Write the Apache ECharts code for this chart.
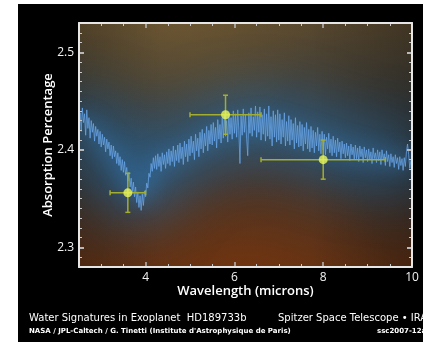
<!DOCTYPE html>
<html>
<head>
<meta charset="utf-8">
<script src="https://cdn.jsdelivr.net/npm/echarts@6/dist/echarts.min.js"></script>
<style>
  html, body { margin: 0; padding: 0; background: #fff; }
  #chart { position: absolute; left: 18px; top: 4px; width: 405px; height: 338px; }
</style>
</head>
<body>
<div id="chart"></div>
<script>
const waveStart = 2.5;
const waveStep = 0.025;
const absorption = [
  2.424, 2.438, 2.419, 2.443, 2.428, 2.437, 2.415, 2.441, 2.422, 2.433,
  2.412, 2.430, 2.418, 2.427, 2.409, 2.424, 2.414, 2.421, 2.406, 2.419,
  2.403, 2.416, 2.405, 2.413, 2.398, 2.411, 2.401, 2.408, 2.394, 2.405,
  2.391, 2.404, 2.393, 2.399, 2.386, 2.397, 2.384, 2.393, 2.379, 2.390,
  2.377, 2.388, 2.374, 2.382, 2.368, 2.377, 2.362, 2.371, 2.357, 2.367,
  2.352, 2.362, 2.346, 2.357, 2.341, 2.353, 2.338, 2.355, 2.343, 2.358,
  2.352, 2.366, 2.361, 2.376, 2.372, 2.386, 2.378, 2.392, 2.381, 2.394,
  2.380, 2.396, 2.383, 2.393, 2.378, 2.397, 2.385, 2.395, 2.381, 2.398,
  2.386, 2.401, 2.384, 2.399, 2.388, 2.404, 2.383, 2.400, 2.389, 2.405,
  2.387, 2.407, 2.391, 2.403, 2.385, 2.409, 2.393, 2.406, 2.388, 2.411,
  2.394, 2.414, 2.397, 2.409, 2.390, 2.416, 2.399, 2.412, 2.393, 2.418,
  2.401, 2.421, 2.397, 2.417, 2.404, 2.424, 2.399, 2.420, 2.406, 2.426,
  2.405, 2.428, 2.409, 2.423, 2.402, 2.431, 2.411, 2.426, 2.407, 2.433,
  2.412, 2.436, 2.414, 2.430, 2.408, 2.438, 2.416, 2.433, 2.411, 2.440,
  2.417, 2.437, 2.413, 2.441, 2.420, 2.386, 2.435, 2.415, 2.442, 2.418,
  2.436, 2.412, 2.394, 2.438, 2.417, 2.443, 2.414, 2.434, 2.420, 2.445,
  2.413, 2.439, 2.418, 2.444, 2.410, 2.436, 2.416, 2.442, 2.409, 2.437,
  2.414, 2.445, 2.411, 2.434, 2.404, 2.440, 2.413, 2.436, 2.408, 2.441,
  2.410, 2.437, 2.406, 2.431, 2.413, 2.438, 2.404, 2.429, 2.409, 2.435,
  2.405, 2.431, 2.410, 2.427, 2.401, 2.433, 2.407, 2.425, 2.403, 2.429,
  2.404, 2.426, 2.399, 2.423, 2.406, 2.428, 2.401, 2.421, 2.398, 2.424,
  2.402, 2.420, 2.397, 2.418, 2.404, 2.423, 2.399, 2.416, 2.396, 2.419,
  2.400, 2.416, 2.395, 2.413, 2.401, 2.417, 2.397, 2.411, 2.394, 2.414,
  2.397, 2.410, 2.393, 2.412, 2.398, 2.408, 2.391, 2.409, 2.396, 2.406,
  2.392, 2.407, 2.394, 2.404, 2.389, 2.406, 2.395, 2.403, 2.390, 2.405,
  2.391, 2.402, 2.388, 2.404, 2.393, 2.401, 2.387, 2.403, 2.392, 2.400,
  2.388, 2.401, 2.390, 2.398, 2.386, 2.402, 2.391, 2.397, 2.387, 2.400,
  2.389, 2.398, 2.385, 2.400, 2.390, 2.396, 2.384, 2.399, 2.388, 2.395,
  2.383, 2.396, 2.387, 2.393, 2.382, 2.395, 2.386, 2.392, 2.380, 2.393,
  2.384, 2.391, 2.379, 2.392, 2.383, 2.398, 2.406, 2.395, 2.381, 2.389,
  2.392
];

// Spitzer measurements with error bars
const pointWave = [3.6, 5.8, 8.0];
const pointAbs  = [2.356, 2.436, 2.390];
const waveLow   = [3.2, 5.0, 6.6];
const waveHigh  = [4.0, 6.6, 9.4];
const absLow    = [2.336, 2.416, 2.370];
const absHigh   = [2.376, 2.456, 2.410];

// axis ticks
const xLabels = [4, 6, 8, 10];
const xMajor = [4, 6, 8];
const xMinor = [3, 3.5, 4.5, 5, 5.5, 6.5, 7, 7.5, 8.5, 9, 9.5];
const yLabels = [2.3, 2.4, 2.5];
const yMinor = [2.29, 2.31, 2.32, 2.33, 2.34, 2.35, 2.36, 2.37, 2.38, 2.39,
  2.41, 2.42, 2.43, 2.44, 2.45, 2.46, 2.47, 2.48, 2.49, 2.51, 2.52];

const FONT = 'Open Sans';
const spectrum = absorption.map((v, i) => [waveStart + i * waveStep, v]);
const errData = pointWave.map((w, i) => [w, pointAbs[i], waveLow[i], waveHigh[i], absLow[i], absHigh[i]]);

// softened copy of the spectrum, only used for the blue halo behind it
const glowPath = spectrum.map((p, i) => {
  let s = 0, n = 0;
  for (let k = i - 6; k <= i + 6; k++) {
    if (k >= 0 && k < spectrum.length) { s += spectrum[k][1]; n++; }
  }
  return [p[0], s / n];
});

const chart = echarts.init(document.getElementById('chart'));

function tickAxis(pos, values, len, color, width, labels) {
  const vertical = pos === 'left' || pos === 'right';
  const ax = {
    type: 'value',
    position: pos,
    z: 10,
    min: vertical ? 2.28 : 2.5,
    max: vertical ? 2.53 : 10,
    axisLine: { show: false },
    splitLine: { show: false },
    axisTick: { show: true, inside: true, length: len, customValues: values,
      lineStyle: { color: color, width: width } },
    axisLabel: { show: false }
  };
  if (labels) {
    ax.axisLabel = { show: true, customValues: labels, color: '#f2f2f2',
      fontSize: 12, fontFamily: FONT, margin: 5 };
  }
  return ax;
}

function frameAxis(pos) {
  const ax = tickAxis(pos, [], 0, '#000', 0);
  ax.axisTick.show = false;
  ax.axisLine = { show: true, lineStyle: { color: '#e6e6e6', width: 2 } };
  ax.z = 11;
  return ax;
}

const xMain = tickAxis('bottom', xMajor, 5, '#b8b8b8', 1.5, xLabels);
xMain.name = 'Wavelength (microns)';
xMain.nameLocation = 'middle';
xMain.nameGap = 18;
xMain.nameMoveOverlap = false;
xMain.nameTextStyle = { color: '#fff', fontSize: 13, fontFamily: FONT, fontWeight: 600 };

const yMain = tickAxis('left', yLabels, 5, '#b8b8b8', 2, yLabels);
yMain.axisLabel.formatter = v => v.toFixed(1);
yMain.name = 'Absorption Percentage';
yMain.nameLocation = 'middle';
yMain.nameGap = 24;
yMain.nameMoveOverlap = false;
yMain.nameTextStyle = { color: '#fff', fontSize: 13, fontFamily: FONT, fontWeight: 600 };

const G = echarts.graphic;

const option = {
  backgroundColor: '#000',
  animation: false,
  title: [
    { text: 'Water Signatures in Exoplanet  HD189733b', left: 11, top: 309, padding: 0,
      textStyle: { color: '#fff', fontSize: 10, fontWeight: 'normal', fontFamily: 'DejaVu Sans' } },
    { text: 'Spitzer Space Telescope • IRAC', left: 260, top: 309, padding: 0,
      textStyle: { color: '#fff', fontSize: 10, fontWeight: 'normal', fontFamily: 'DejaVu Sans' } },
    { text: "NASA / JPL-Caltech / G. Tinetti (Institute d'Astrophysique de Paris)", left: 11, top: 324, padding: 0,
      textStyle: { color: '#fff', fontSize: 7, fontWeight: 'bold', fontFamily: 'DejaVu Sans' } },
    { text: 'ssc2007-12a', left: 359, top: 324, padding: 0,
      textStyle: { color: '#fff', fontSize: 7, fontWeight: 'bold', fontFamily: 'DejaVu Sans' } }
  ],
  grid: {
    left: 61, right: 11, top: 19, bottom: 75,
    show: true,
    borderWidth: 0,
    backgroundColor: '#3c3a36'
  },
  xAxis: [
    xMain,
    tickAxis('bottom', xMinor, 3, '#c8c8c8', 1),
    tickAxis('top', xMajor, 5, '#b8b8b8', 1.5),
    tickAxis('top', xMinor, 3, '#c8c8c8', 1),
    frameAxis('bottom'),
    frameAxis('top')
  ],
  yAxis: [
    yMain,
    tickAxis('left', yMinor, 3, '#c8c8c8', 1),
    tickAxis('right', yLabels, 5, '#b8b8b8', 2),
    tickAxis('right', yMinor, 3, '#c8c8c8', 1),
    frameAxis('left'),
    frameAxis('right')
  ],
  series: [
    {
      // plot backdrop: warm brown top, orange glow at the bottom
      type: 'custom', data: [[6, 2.4]], silent: true, z: 1, clip: true,
      renderItem: function (params) {
        const r = params.coordSys;
        const shape = { x: r.x, y: r.y, width: r.width, height: r.height };
        return {
          type: 'group',
          children: [
            { type: 'rect', shape: shape, style: { fill: new G.LinearGradient(0, 0, 0, 1, [
              { offset: 0, color: '#57472e' }, { offset: 0.35, color: '#3a3c3b' },
              { offset: 0.65, color: '#393532' }, { offset: 1, color: '#5e3014' }]) } },
            { type: 'rect', shape: shape, style: { fill: new G.RadialGradient(0.5, 1.05, 0.6, [
              { offset: 0, color: 'rgba(125,55,12,0.6)' }, { offset: 1, color: 'rgba(125,55,12,0)' }]) } },
            { type: 'rect', shape: shape, style: { fill: new G.RadialGradient(0.3, -0.1, 0.6, [
              { offset: 0, color: 'rgba(125,98,52,0.6)' }, { offset: 1, color: 'rgba(125,98,52,0)' }]) } },
            { type: 'rect', shape: shape, style: { fill: new G.LinearGradient(0, 0, 1, 0, [
              { offset: 0, color: 'rgba(0,0,0,0.15)' }, { offset: 0.25, color: 'rgba(0,0,0,0)' },
              { offset: 0.7, color: 'rgba(0,0,0,0)' }, { offset: 1, color: 'rgba(0,0,0,0.25)' }]) } }
          ]
        };
      }
    },
    {
      // blue halo: only the blurred shadow of an off-screen stroke is visible
      type: 'custom', data: [[6, 2.4]], silent: true, z: 2, clip: true,
      renderItem: function (params, api) {
        const OFF = 2000;
        const pts = glowPath.map(p => { const c = api.coord(p); return [c[0], c[1] + OFF]; });
        const halo = (w, blur, color) => ({
          type: 'polyline',
          shape: { points: pts },
          style: { fill: null, stroke: '#000', lineWidth: w, lineJoin: 'round',
            shadowBlur: blur, shadowColor: color, shadowOffsetY: -OFF }
        });
        return {
          type: 'group',
          children: [
            halo(40, 60, 'rgba(40,120,185,0.75)'),
            halo(12, 20, 'rgba(55,135,205,0.4)')
          ]
        };
      }
    },
    {
      type: 'line', data: spectrum, symbol: 'none', silent: true, z: 3,
      lineStyle: { width: 1, color: '#6aa6e8', opacity: 0.75 }
    },
    {
      type: 'custom', data: errData, silent: true, z: 4,
      renderItem: function (params, api) {
        const c = api.coord([api.value(0), api.value(1)]);
        const xl = api.coord([api.value(2), api.value(1)]);
        const xh = api.coord([api.value(3), api.value(1)]);
        const yl = api.coord([api.value(0), api.value(4)]);
        const yh = api.coord([api.value(0), api.value(5)]);
        const st = { stroke: '#a3ad2e', lineWidth: 1.5 };
        const cap = 2.5;
        return {
          type: 'group',
          children: [
            { type: 'line', shape: { x1: xl[0], y1: c[1], x2: xh[0], y2: c[1] }, style: st },
            { type: 'line', shape: { x1: c[0], y1: yl[1], x2: c[0], y2: yh[1] }, style: st },
            { type: 'line', shape: { x1: xl[0], y1: c[1] - cap, x2: xl[0], y2: c[1] + cap }, style: st },
            { type: 'line', shape: { x1: xh[0], y1: c[1] - cap, x2: xh[0], y2: c[1] + cap }, style: st },
            { type: 'line', shape: { x1: c[0] - cap, y1: yl[1], x2: c[0] + cap, y2: yl[1] }, style: st },
            { type: 'line', shape: { x1: c[0] - cap, y1: yh[1], x2: c[0] + cap, y2: yh[1] }, style: st }
          ]
        };
      }
    },
    {
      type: 'scatter', data: pointWave.map((w, i) => [w, pointAbs[i]]), symbolSize: 9, silent: true, z: 5,
      itemStyle: { color: '#eaf75c' }
    }
  ]
};

chart.setOption(option);
</script>
</body>
</html>
